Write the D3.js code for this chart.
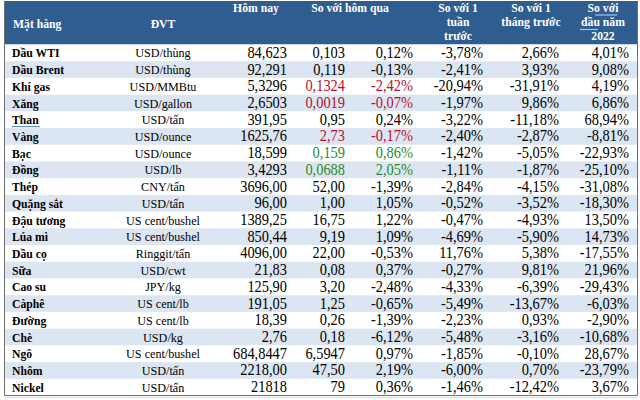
<!DOCTYPE html>
<html><head><meta charset="utf-8">
<script src="https://cdn.jsdelivr.net/npm/d3@7"></script>
<style>html,body{margin:0;padding:0;background:#fff;}svg{display:block;}</style>
</head><body>
<svg id="c" width="640" height="400"></svg>
<script>
const items = ["Dầu WTI","Dầu Brent","Khí gas","Xăng","Than","Vàng","Bạc","Đồng","Thép","Quặng sắt","Đậu tương","Lúa mì","Dầu cọ","Sữa","Cao su","Càphê","Đường","Chè","Ngô","Nhôm","Nickel"];
const units = ["USD/thùng","USD/thùng","USD/MMBtu","USD/gallon","USD/tấn","USD/ounce","USD/ounce","USD/lb","CNY/tấn","USD/tấn","US cent/bushel","US cent/bushel","Ringgit/tấn","USD/cwt","JPY/kg","US cent/lb","US cent/lb","USD/kg","US cent/bushel","USD/tấn","USD/tấn"];
const today = ["84,623","92,291","5,3296","2,6503","391,95","1625,76","18,599","3,4293","3696,00","96,00","1389,25","850,44","4096,00","21,83","125,90","191,05","18,39","2,76","684,8447","2218,00","21818"];
const chgAbs = ["0,103","0,119","0,1324","0,0019","0,95","2,73","0,159","0,0688","52,00","1,00","16,75","9,19","22,00","0,08","3,20","1,25","0,26","0,18","6,5947","47,50","79"];
const chgPct = ["0,12%","-0,13%","-2,42%","-0,07%","0,24%","-0,17%","0,86%","2,05%","-1,39%","1,05%","1,22%","1,09%","-0,53%","0,37%","-2,48%","-0,65%","-1,39%","-6,12%","0,97%","2,19%","0,36%"];
const week = ["-3,78%","-2,41%","-20,94%","-1,97%","-3,22%","-2,40%","-1,42%","-1,11%","-2,84%","-0,52%","-0,47%","-4,69%","11,76%","-0,27%","-4,33%","-5,49%","-2,23%","-5,48%","-1,85%","-6,00%","-1,46%"];
const month = ["2,66%","3,93%","-31,91%","9,86%","-11,18%","-2,87%","-5,05%","-1,87%","-4,15%","-3,52%","-4,93%","-5,90%","5,38%","9,81%","-6,39%","-13,67%","0,93%","-3,16%","-0,10%","0,70%","-12,42%"];
const ytd = ["4,01%","9,08%","4,19%","6,86%","68,94%","-8,81%","-22,93%","-25,10%","-31,08%","-18,30%","13,50%","14,73%","-17,55%","21,96%","-29,43%","-6,03%","-2,90%","-10,68%","28,67%","-23,79%","3,67%"];
const dayTone = ["","","down","down","","down","up","up","","","","","","","","","","","","",""];
const headers = [
  {col:"name", lines:["Mặt hàng"], start:true},
  {col:"unit", lines:["ĐVT"]},
  {col:"today", lines:["Hôm nay"], top:true},
  {col:"day", lines:["So với hôm qua"], top:true},
  {col:"week", lines:["So với 1","tuần","trước"]},
  {col:"month", lines:["So với 1","tháng trước"], top:true},
  {col:"ytd", lines:["So với","đầu năm","2022"]}
];

const svg = d3.select("#c");
const HEAD = "#2F5D8F", ALT = "#DCE6F2", RED = "#B5122E", GREEN = "#2C8A2C";
const SX = 0.9;
const serif = "'Liberation Serif','Times New Roman',serif";

const y = d3.scaleBand().domain(d3.range(items.length)).range([44.5, 395.5]).padding(0);
const L = 5, R = 637;

// header background
svg.append("rect").attr("x", L).attr("y", 1).attr("width", R - L).attr("height", 43.5).attr("fill", HEAD);

// rows
svg.selectAll("rect.row").data(d3.range(items.length)).join("rect")
  .attr("class","row")
  .attr("x", L).attr("y", i => y(i)).attr("width", R - L).attr("height", y.bandwidth() + 0.3)
  .attr("fill", i => i % 2 ? ALT : "#fff");

// borders
svg.append("line").attr("x1",4.5).attr("x2",4.5).attr("y1",1).attr("y2",395.5).attr("stroke","#6f6f6f").attr("stroke-width",1);
svg.append("line").attr("x1",R+0.5).attr("x2",R+0.5).attr("y1",1).attr("y2",395.5).attr("stroke","#6f6f6f").attr("stroke-width",1);
svg.append("line").attr("x1",4.5).attr("x2",R+0.5).attr("y1",395.5).attr("y2",395.5).attr("stroke","#6f6f6f").attr("stroke-width",1);
svg.append("line").attr("x1",4.5).attr("x2",R+0.5).attr("y1",397.5).attr("y2",397.5).attr("stroke","#d8d8d8").attr("stroke-width",1);

function txt(g, x, yy, s, size, anchor, opts={}) {
  return g.append("text")
    .attr("transform", `translate(${x},${yy}) scale(${SX},1)`)
    .attr("text-anchor", anchor)
    .attr("font-family", serif)
    .attr("font-size", size)
    .attr("font-weight", opts.bold ? "bold" : "normal")
    .attr("fill", opts.fill || "#000")
    .text(s);
}

// header text
const hx = {name:13, unit:163, today:256, day:350, week:458, month:531, ytd:603};
const hg = svg.append("g");
headers.forEach(h => {
  const anchor = h.start ? "start" : "middle";
  let ys;
  if (h.lines.length === 3) ys = [11.5, 26, 40.3];
  else if (h.top) ys = [11.5, 26];
  else ys = [28];
  h.lines.forEach((ln, k) => txt(hg, hx[h.col], ys[k], ln, 13, anchor, {bold:true, fill:"#fff"}));
});
// spell-check marks in header
hg.append("path").attr("d","M595,15 L617,15").attr("stroke","#a9c4e4").attr("stroke-width",1.2);
hg.append("path").attr("d","M580,29.5 L598,29.5").attr("stroke","#a9c4e4").attr("stroke-width",1.2);

// body text
const bg = svg.append("g");
const cy = i => y(i) + y.bandwidth() / 2 + 5;
const toneFill = t => t === "down" ? RED : t === "up" ? GREEN : "#000";
items.forEach((d, i) => {
  txt(bg, 12, cy(i) - 0.5, d, 13, "start", {bold:true});
  txt(bg, 163, cy(i) - 0.5, units[i], 13.5, "middle");
  txt(bg, 287, cy(i), today[i], 16, "end");
  txt(bg, 345, cy(i), chgAbs[i], 16, "end", {fill: toneFill(dayTone[i])});
  txt(bg, 413, cy(i), chgPct[i], 16, "end", {fill: toneFill(dayTone[i])});
  txt(bg, 483, cy(i), week[i], 16, "end");
  txt(bg, 559, cy(i), month[i], 16, "end");
  txt(bg, 629, cy(i), ytd[i], 16, "end");
});
// spell-check mark under "Than"
bg.append("path").attr("d", `M12,${y(4)+y.bandwidth()-1.5} L40,${y(4)+y.bandwidth()-1.5}`).attr("stroke","#6b8fc4").attr("stroke-width",1.2);
</script>
</body></html>
